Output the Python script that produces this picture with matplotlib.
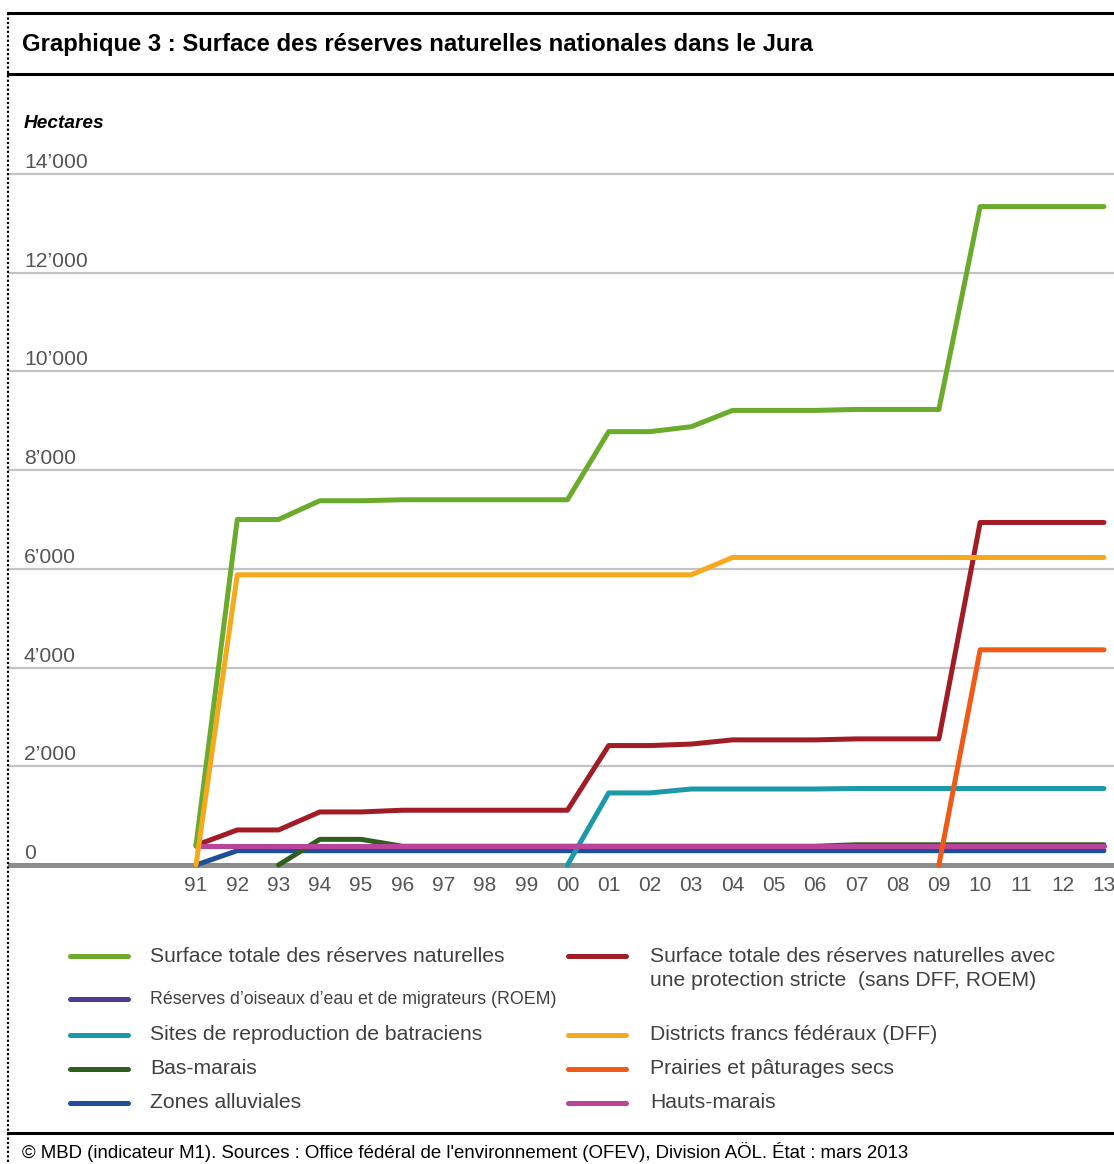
import matplotlib
matplotlib.use("Agg")
import matplotlib.pyplot as plt
from matplotlib import transforms
from matplotlib.lines import Line2D
import numpy as np

plt.rcParams['font.family'] = ['Liberation Sans', 'DejaVu Sans']

# ---------------- data ----------------
years = ['91', '92', '93', '94', '95', '96', '97', '98', '99', '00', '01', '02',
         '03', '04', '05', '06', '07', '08', '09', '10', '11', '12', '13']
nan = np.nan
total = [400, 7000, 7000, 7380, 7380, 7400, 7400, 7400, 7400, 7400, 8780, 8780,
         8880, 9210, 9210, 9210, 9230, 9230, 9230, 13340, 13340, 13340, 13340]
strict = [400, 710, 710, 1075, 1075, 1110, 1110, 1110, 1110, 1110, 2420, 2420,
          2450, 2535, 2535, 2535, 2555, 2555, 2555, 6940, 6940, 6940, 6940]
roem = [0] * 23
batraciens = [nan] * 9 + [0, 1460, 1460, 1540, 1540, 1540, 1540, 1550, 1550,
                          1550, 1550, 1550, 1550, 1550]
dff = [0, 5880, 5880, 5880, 5880, 5880, 5880, 5880, 5880, 5880, 5880, 5880,
       5880, 6230, 6230, 6230, 6230, 6230, 6230, 6230, 6230, 6230, 6230]
basmarais = [nan, nan, 0, 520, 520, 380, 380, 380, 380, 380, 380, 380,
             380, 380, 380, 380, 410, 410, 410, 410, 410, 410, 410]
prairies = [nan] * 18 + [0, 4360, 4360, 4360, 4360]
alluviales = [0] + [290] * 22
hautsmarais = [390] * 23

yticks = [0, 2000, 4000, 6000, 8000, 10000, 12000, 14000]
ytick_labels = ['0', '2’000', '4’000', '6’000', '8’000', '10’000', '12’000', '14’000']

series = [
    # label, values, colour, zorder
    ('Réserves d’oiseaux d’eau et de migrateurs (ROEM)', roem, '#4f3b8f', 1.0),
    ('Zones alluviales', alluviales, '#1f4f9b', 2.0),
    ('Bas-marais', basmarais, '#2f5f1f', 2.1),
    ('Sites de reproduction de batraciens', batraciens, '#1c98ab', 2.2),
    ('Surface totale des réserves naturelles avec\nune protection stricte  (sans DFF, ROEM)', strict, '#a11c24', 2.3),
    ('Hauts-marais', hautsmarais, '#b8459b', 2.4),
    ('Prairies et pâturages secs', prairies, '#f05a16', 2.5),
    ('Surface totale des réserves naturelles', total, '#6aab2b', 2.6),
    ('Districts francs fédéraux (DFF)', dff, '#f6a91d', 2.7),
]
colors = {s[0]: s[2] for s in series}

# ---------------- figure ----------------
W, H = 1114, 1164
fig = plt.figure(figsize=(W / 100, H / 100), dpi=100)

def fx(px):
    return px / W

def fy(py):
    return 1 - py / H

ax_top, ax_bot = 150, 870
ax = fig.add_axes([fx(8), fy(ax_bot), fx(W - 8), (ax_bot - ax_top) / H])
x = np.arange(len(years))
x0px, dxpx = 196, 41.27
ax.set_xlim((8 - x0px) / dxpx, (W - x0px) / dxpx)
ppu = (865 - 174) / 14000.0
ax.set_ylim(-(ax_bot - 865) / ppu, 14000 + (174 - ax_top) / ppu)

for s in ax.spines.values():
    s.set_visible(False)
ax.set_yticks([])
ax.set_xticks(x)
ax.set_xticklabels(years, fontsize=15, color='#555555')
ax.tick_params(axis='x', length=0, pad=4)

for v in yticks[1:]:
    ax.axhline(v, color='#c3c3c3', lw=1.6, zorder=0.5)
ax.axhline(0, color='#8c8c8c', lw=3.6, zorder=1.5)

for label, vals, col, z in series:
    ax.plot(x, vals, color=col, lw=3.6, zorder=z, solid_joinstyle='round',
            solid_capstyle='round')

# y labels above gridlines
base = transforms.blended_transform_factory(fig.transFigure, ax.transData)
tr = transforms.offset_copy(base, fig=fig, y=6, units='dots')
for v, lab in zip(yticks, ytick_labels):
    fig.text(fx(24), v, lab, transform=tr, fontsize=15.2, color='#555555',
             va='baseline', ha='left')

# ---------------- frame / titles ----------------
def hline(py, lw=2.2, ls='-'):
    fig.add_artist(Line2D([fx(8), 1], [fy(py), fy(py)], color='black', lw=lw,
                          ls=ls, transform=fig.transFigure))

hline(13)
hline(74)
hline(1133)
fig.add_artist(Line2D([fx(8), fx(8)], [fy(13), 0], color='black', lw=1.6,
                      ls=(0, (1, 1)), transform=fig.transFigure))

fig.text(fx(22), fy(44), 'Graphique 3 : Surface des réserves naturelles nationales dans le Jura',
         fontsize=17.2, weight='bold', va='center', ha='left', color='black')
fig.text(fx(24), fy(124), 'Hectares', fontsize=13.7, weight='bold', style='italic',
         va='center', ha='left', color='black')
fig.text(fx(22), fy(1152),
         '© MBD (indicateur M1). Sources : Office fédéral de l\'environnement (OFEV), Division AÖL. État : mars 2013',
         fontsize=13.4, va='center', ha='left', color='black')

# ---------------- legend ----------------
legend_items = [
    ('Surface totale des réserves naturelles', 70, 150, 956, 15.2),
    ('Réserves d’oiseaux d’eau et de migrateurs (ROEM)', 70, 150, 999, 12.8),
    ('Sites de reproduction de batraciens', 70, 150, 1035, 15.2),
    ('Bas-marais', 70, 150, 1069, 15.2),
    ('Zones alluviales', 70, 150, 1103, 15.2),
    ('Surface totale des réserves naturelles avec\nune protection stricte  (sans DFF, ROEM)', 568, 650, 956, 15.2),
    ('Districts francs fédéraux (DFF)', 568, 650, 1035, 15.2),
    ('Prairies et pâturages secs', 568, 650, 1069, 15.2),
    ('Hauts-marais', 568, 650, 1103, 15.2),
]
for label, lx, tx, py, fs in legend_items:
    fig.add_artist(Line2D([fx(lx), fx(lx + 58)], [fy(py), fy(py)], color=colors[label],
                          lw=3.6, solid_capstyle='round', transform=fig.transFigure))
    for k, part in enumerate(label.split('\n')):
        fig.text(fx(tx), fy(py + 25 * k), part, fontsize=fs, color='#404040',
                 va='center', ha='left')

fig.savefig('out.png', dpi=100)
